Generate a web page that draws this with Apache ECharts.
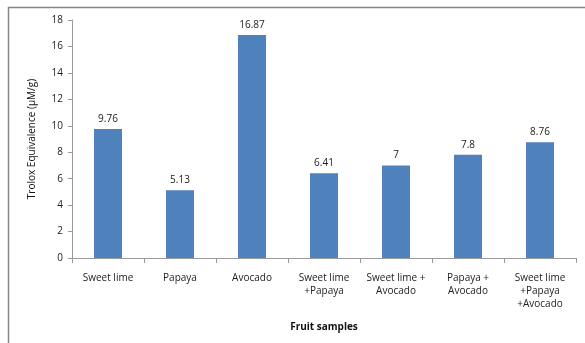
<!DOCTYPE html>
<html>
<head>
<meta charset="utf-8">
<script src="https://cdn.jsdelivr.net/npm/echarts@6/dist/echarts.min.js"></script>
<style>
  html, body { margin: 0; padding: 0; background: #fff; }
  #chart { width: 585px; height: 343px; }
</style>
</head>
<body>
<div id="chart"></div>
<script>
// Fruit samples and their antioxidant capacity
const categories = [
  'Sweet lime',
  'Papaya',
  'Avocado',
  'Sweet lime\n+Papaya',
  'Sweet lime +\nAvocado',
  'Papaya +\nAvocado',
  'Sweet lime\n+Papaya\n+Avocado'
];
const troloxValues = [9.76, 5.13, 16.87, 6.41, 7, 7.8, 8.76];
const yTicks = { min: 0, max: 18, interval: 2 };

const font = '"Open Sans", "Liberation Sans", sans-serif';
const chart = echarts.init(document.getElementById('chart'), null, { renderer: 'canvas' });

chart.setOption({
  animation: false,
  backgroundColor: '#ffffff',
  graphic: [
    {
      type: 'rect',
      shape: { x: 8.5, y: 7.5, width: 600, height: 400 },
      style: { fill: 'none', stroke: '#868686', lineWidth: 1.5 },
      silent: true
    }
  ],
  grid: { left: 72, right: 9, top: 20, bottom: 85, containLabel: false },
  xAxis: {
    type: 'category',
    data: categories,
    name: 'Fruit samples',
    nameLocation: 'middle',
    nameGap: 64,
    nameTextStyle: { fontFamily: font, fontSize: 10, fontWeight: 'bold', color: '#111' },
    axisLine: { lineStyle: { color: '#9a9a9a', width: 1 } },
    axisTick: { show: true, length: 5, lineStyle: { color: '#9a9a9a' } },
    axisLabel: {
      interval: 0,
      margin: 14,
      fontFamily: font,
      fontSize: 10,
      lineHeight: 13,
      color: '#222'
    }
  },
  yAxis: {
    type: 'value',
    min: yTicks.min,
    max: yTicks.max,
    interval: yTicks.interval,
    name: 'Trolox Equivalence (µM/g)',
    nameLocation: 'middle',
    nameGap: 35,
    nameRotate: 90,
    nameTextStyle: { fontFamily: font, fontSize: 10, color: '#111' },
    axisLine: { show: true, lineStyle: { color: '#9a9a9a', width: 1 } },
    axisTick: { show: true, length: 4, lineStyle: { color: '#9a9a9a' } },
    splitLine: { show: false },
    axisLabel: { fontFamily: font, fontSize: 10, color: '#222', margin: 9 }
  },
  series: [
    {
      type: 'bar',
      data: troloxValues,
      barWidth: 28,
      itemStyle: { color: '#4F81BD' },
      label: {
        show: true,
        position: 'top',
        distance: 5,
        fontFamily: font,
        fontSize: 10,
        color: '#222'
      }
    }
  ]
});
</script>
</body>
</html>
